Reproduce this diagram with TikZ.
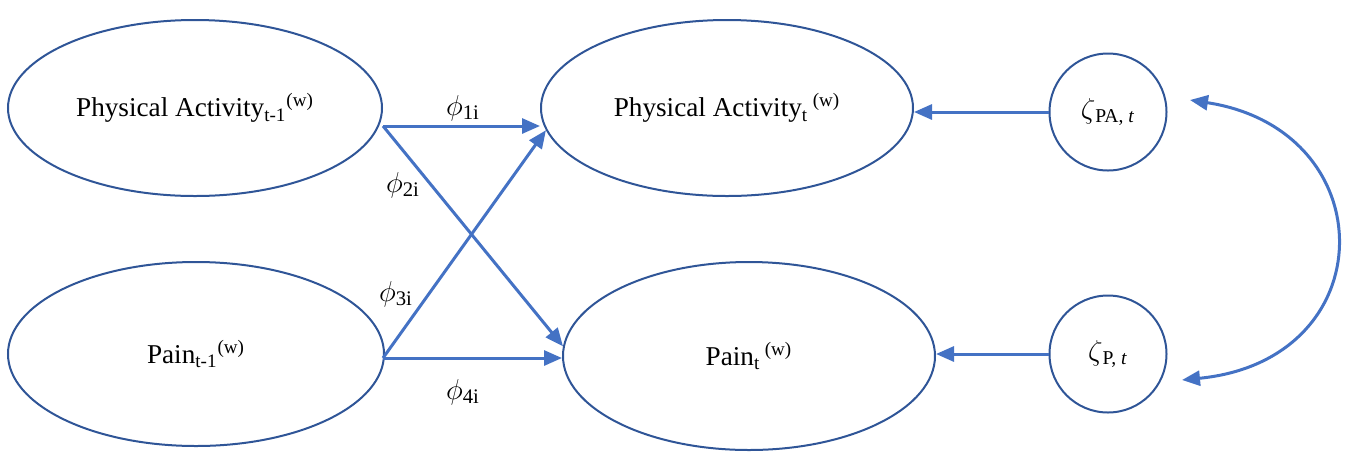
\documentclass[tikz,border=0pt]{standalone}
\usepackage{fontspec}
\setmainfont{Liberation Serif}
\usetikzlibrary{arrows.meta,shapes.geometric,calc,positioning}
\definecolor{color_outline}{HTML}{2f5597}
\definecolor{color_arrow}{HTML}{4472c4}

\begin{document}
\begin{tikzpicture}[x=0.5pt,y=-0.5pt,
		latent/.style={ellipse,draw=color_outline,line width=1pt,inner sep=0pt,font=\fontsize{13.6}{16}\selectfont},
		residual/.style={circle,draw=color_outline,line width=1pt,minimum size=58.5pt,inner sep=0pt,font=\fontsize{14}{16}\selectfont},
		effect/.style={draw=color_arrow,line width=1.5pt,-{Triangle[length=9pt,width=7.5pt]}},
		coeff/.style={font=\fontsize{14.8}{18}\selectfont}]
				\useasboundingbox (0, 0) rectangle (1346, 452);
				% Latent variables
				\node[latent,minimum width=187pt,minimum height=88pt] (pa1) at (195, 108)
					{Physical Activity\textsubscript{t-1}\textsuperscript{(w)}};
				\node[latent,minimum width=188pt,minimum height=92pt] (pn1) at (196, 354)
					{Pain\textsubscript{t-1}\textsuperscript{(w)}};
				\node[latent,minimum width=186pt,minimum height=88pt] (pa2) at (727, 108)
					{Physical Activity\textsubscript{t}\,\textsuperscript{(w)}};
				\node[latent,minimum width=186pt,minimum height=94pt] (pn2) at (749, 356)
					{Pain\textsubscript{t}\,\textsuperscript{(w)}};
		
				% Residuals
				\node[residual] (zpa) at (1108, 112) {$\zeta$\textsubscript{PA, \textit{t}}\hspace{14pt}};
				\node[residual] (zp) at (1108, 354) {$\zeta$\textsubscript{P, \textit{t}}\hspace{8pt}};
		
				% Points
				\coordinate (S1) at (383, 126);
				\coordinate (S2) at (383, 358);
				\coordinate (CA) at (1190, 100);
				\coordinate (CB) at (1182, 380);
		
				% Lagged effects
				\draw[effect] (S1) -- (S1 -| pa2.west);
				\draw[effect] (S1) -- (pn2.177);
				\draw[effect] (S2) -- (pa2.187);
				\draw[effect] (S2) -- (S2 -| pn2.west);
				\node[coeff] (phi1) at (463, 108) {$\phi_{\mathrm{1i}}$};
				\node[coeff] (phi2) at (403, 185) {$\phi_{\mathrm{2i}}$};
				\node[coeff] (phi3) at (396, 294) {$\phi_{\mathrm{3i}}$};
				\node[coeff] (phi4) at (463, 392) {$\phi_{\mathrm{4i}}$};
		
				% Innovations
				\draw[effect] (zpa.west) -- (zpa.west -| pa2.east);
				\draw[effect] (zp.west) -- (zp.west -| pn2.east);
				\draw[effect,{Triangle[length=9pt,width=7.5pt]}-{Triangle[length=9pt,width=7.5pt]}]
					(CA) .. controls (1385, 130) and (1385, 360) .. (CB);
			\end{tikzpicture}
\end{document}
